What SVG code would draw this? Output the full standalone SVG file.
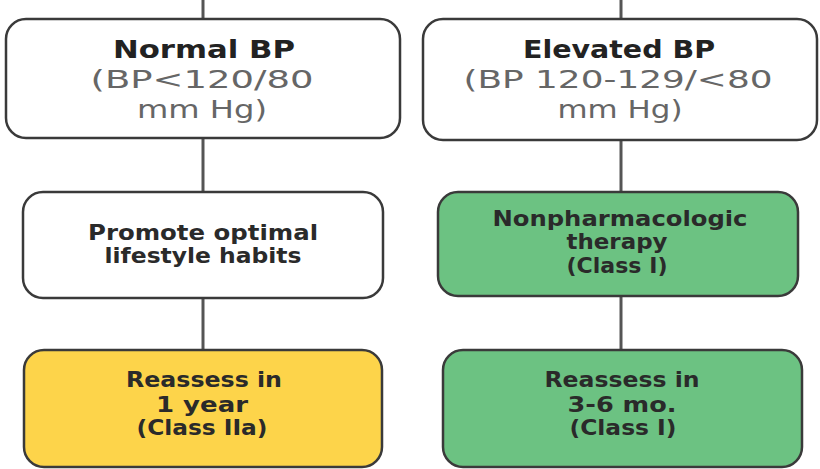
<svg xmlns="http://www.w3.org/2000/svg" width="820" height="469" viewBox="0 0 820 469">
<style>
.box{stroke:#3a3a3a;stroke-width:2.5}
.w{fill:#ffffff}
.g{fill:#6cc282}
.y{fill:#fdd44a}
.conn line{stroke:#555555;stroke-width:3}
text{font-family:"DejaVu Sans","Liberation Sans",sans-serif;text-anchor:middle}
.t{font-size:25px;font-weight:bold;fill:#222222}
.s{font-size:25px;fill:#666666}
.b{font-size:21px;font-weight:bold;fill:#2a2a2a}
</style>
<rect width="820" height="469" fill="#ffffff"/>
<g id="connectors" class="conn">
<line x1="203" y1="0" x2="203" y2="19"/>
<line x1="203" y1="138" x2="203" y2="193"/>
<line x1="203" y1="298" x2="203" y2="351"/>
<line x1="621" y1="0" x2="621" y2="19"/>
<line x1="621" y1="140" x2="621" y2="193"/>
<line x1="621" y1="296" x2="621" y2="351"/>
</g>
<g id="normal">
<rect class="box w" x="6" y="19" width="394" height="119" rx="20"/>
<text class="t" x="204" y="58" textLength="182" lengthAdjust="spacingAndGlyphs">Normal BP</text>
<text class="s" x="202" y="88" textLength="223" lengthAdjust="spacingAndGlyphs">(BP&lt;120/80</text>
<text class="s" x="202" y="118" textLength="130" lengthAdjust="spacingAndGlyphs">mm Hg)</text>
</g>
<g id="elevated">
<rect class="box w" x="423" y="19" width="394" height="121" rx="20"/>
<text class="t" x="619" y="58" textLength="192" lengthAdjust="spacingAndGlyphs">Elevated BP</text>
<text class="s" x="618" y="88" textLength="309" lengthAdjust="spacingAndGlyphs">(BP 120-129/&lt;80</text>
<text class="s" x="620" y="118" textLength="125" lengthAdjust="spacingAndGlyphs">mm Hg)</text>
</g>
<g id="promote">
<rect class="box w" x="23" y="192" width="360" height="106" rx="20"/>
<text class="b" x="203" y="240" textLength="230" lengthAdjust="spacingAndGlyphs">Promote optimal</text>
<text class="b" x="203" y="263" textLength="197" lengthAdjust="spacingAndGlyphs">lifestyle habits</text>
</g>
<g id="nonpharm">
<rect class="box g" x="438" y="192" width="360" height="104" rx="20"/>
<text class="b" x="620" y="226" textLength="255" lengthAdjust="spacingAndGlyphs">Nonpharmacologic</text>
<text class="b" x="617" y="249" textLength="101" lengthAdjust="spacingAndGlyphs">therapy</text>
<text class="b" x="617" y="273" textLength="101" lengthAdjust="spacingAndGlyphs">(Class I)</text>
</g>
<g id="reassess1">
<rect class="box y" x="24" y="350" width="358" height="117" rx="20"/>
<text class="b" x="204" y="387" textLength="156" lengthAdjust="spacingAndGlyphs">Reassess in</text>
<text class="b" x="202" y="412" textLength="92" lengthAdjust="spacingAndGlyphs">1 year</text>
<text class="b" x="202" y="435" textLength="131" lengthAdjust="spacingAndGlyphs">(Class IIa)</text>
</g>
<g id="reassess2">
<rect class="box g" x="443" y="350" width="359" height="117" rx="20"/>
<text class="b" x="622" y="387" textLength="155" lengthAdjust="spacingAndGlyphs">Reassess in</text>
<text class="b" x="622" y="412" textLength="109" lengthAdjust="spacingAndGlyphs">3-6 mo.</text>
<text class="b" x="623" y="435" textLength="107" lengthAdjust="spacingAndGlyphs">(Class I)</text>
</g>
</svg>
